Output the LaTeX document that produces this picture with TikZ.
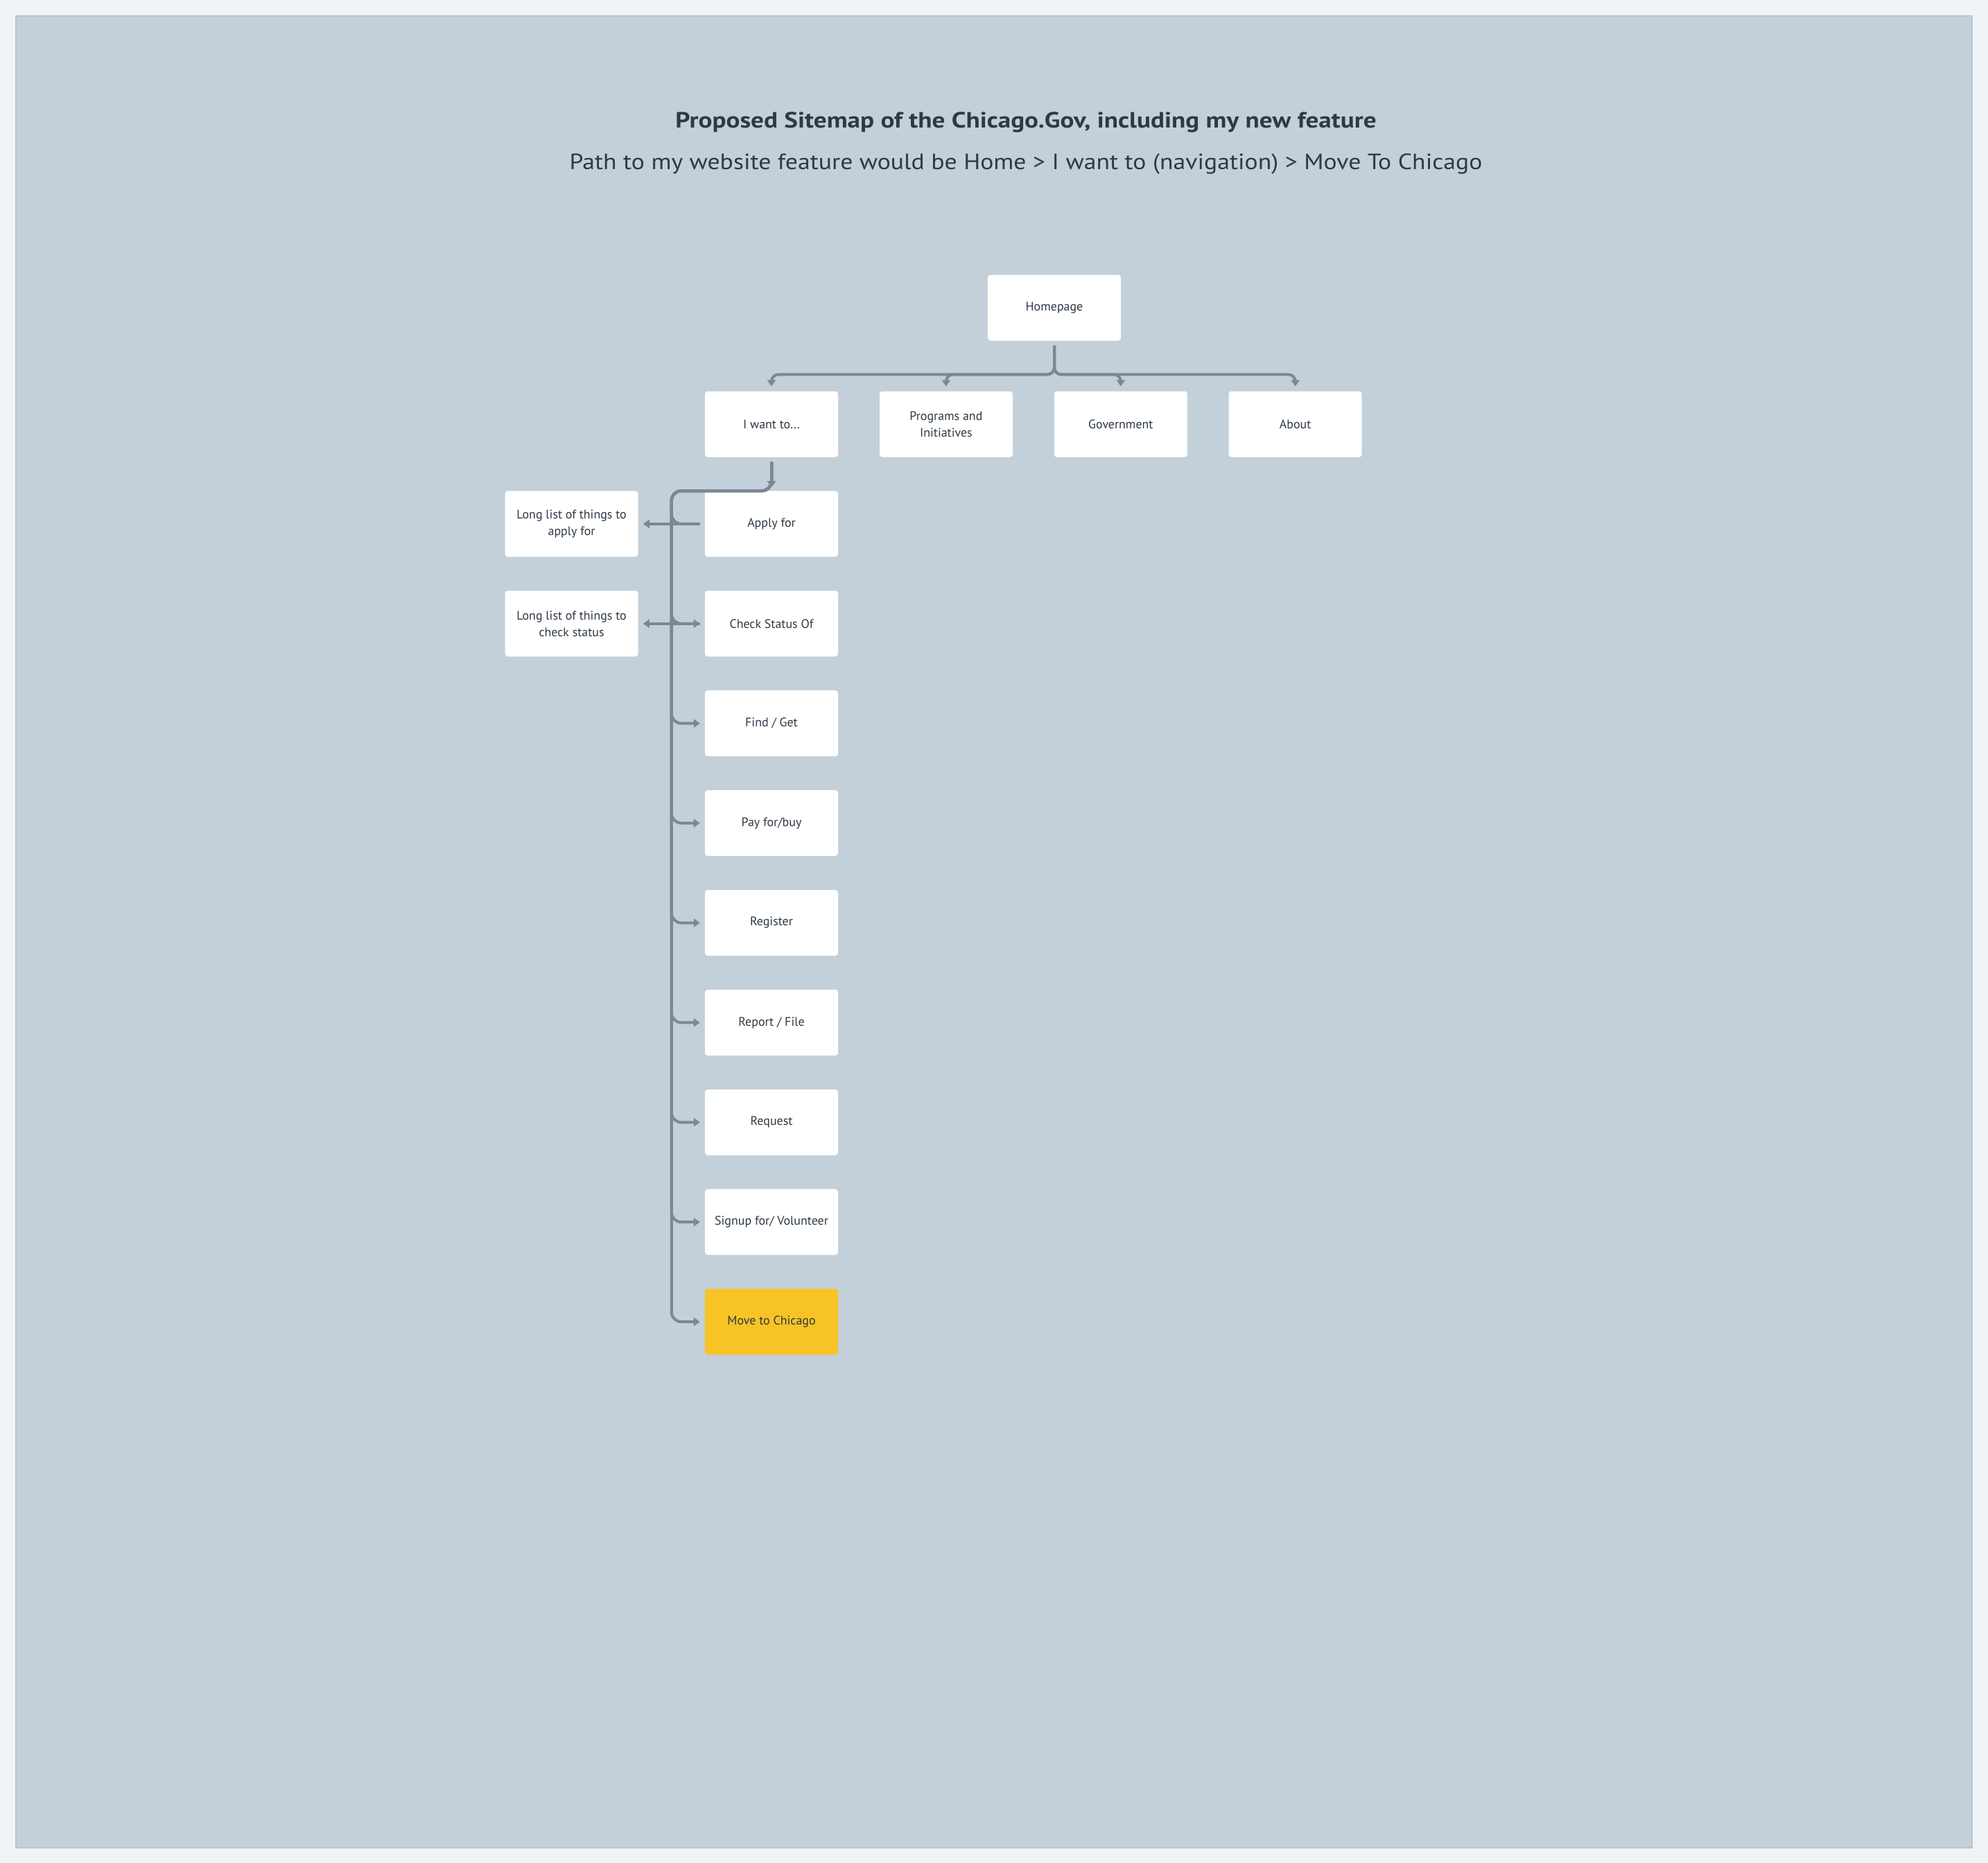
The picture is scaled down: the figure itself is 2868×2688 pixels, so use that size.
\documentclass[tikz,border=0pt]{standalone}
\usepackage{fontspec}
\setmainfont{PT Sans}
\newfontfamily\headfont[FakeStretch=1.165]{PT Sans}
\newfontfamily\pathfont[FakeStretch=1.12]{PT Sans}
\usetikzlibrary{arrows.meta,positioning}
\definecolor{pagebg}{HTML}{F0F4F7}
\definecolor{panelbg}{HTML}{C3D0DA}
\definecolor{panelrim}{HTML}{B9C6D0}
\definecolor{wire}{HTML}{7A8794}
\definecolor{ink}{HTML}{2D3945}
\definecolor{gold}{HTML}{F8C325}

\begin{document}
\begin{tikzpicture}[
  x=1bp, y=-1bp,
  >={Triangle[length=9bp,width=12bp]},
  page/.style    = {rounded corners=4bp, fill=white, minimum width=192bp, minimum height=95bp, align=center, text=ink, font=\fontsize{18}{24}\selectfont, inner sep=4bp},
  feature/.style = {page, fill=gold},
  line/.style    = {->, draw=wire, line width=4bp, rounded corners=14bp, shorten <=7bp, shorten >=7bp},
  node distance=48.5bp and 59.5bp
]

% Background
\useasboundingbox (0,0) rectangle (2868,2688);
\fill[pagebg] (0,0) rectangle (2868,2688);
\fill[panelrim] (22,22) rectangle (2846,2667);
\fill[panelbg] (24,24) rectangle (2844,2665);

% Titles
\node[text=ink, font=\headfont\bfseries\fontsize{32}{38}\selectfont] (title) at (1480,176) {Proposed Sitemap of the Chicago.Gov, including my new feature};
\node[text=ink, font=\pathfont\fontsize{32}{38}\selectfont] (subtitle) at (1480,237) {Path to my website feature would be Home > I want to (navigation) > Move To Chicago};

% Nodes
\node[page] (home) at (1521,444) {Homepage};
\node[page] (iwant) at (1113,612) {I want to...};
\node[page, right=of iwant] (prog) {Programs and\\Initiatives};
\node[page, right=of prog] (gov) {Government};
\node[page, right=of gov] (about) {About};

% I want to column
\node[page, below=of iwant] (apply) {Apply for};
\node[page, below=of apply] (check) {Check Status Of};
\node[page, below=of check] (find) {Find / Get};
\node[page, below=of find] (pay) {Pay for/buy};
\node[page, below=of pay] (register) {Register};
\node[page, below=of register] (report) {Report / File};
\node[page, below=of report] (request) {Request};
\node[page, below=of request] (signup) {Signup for/ Volunteer};
\node[feature, below=of signup] (move) {Move to Chicago};

% Long lists
\node[page, left=96bp of apply] (applylist) {Long list of things to\\apply for};
\node[page, left=96bp of check] (checklist) {Long list of things to\\check status};

\coordinate[left=48bp of apply.north west] (bend);

% Homepage to top level
\foreach \t in {iwant,prog,gov,about}
  \draw[line, rounded corners=10bp] (home.south) |- ([yshift=24bp]\t.north) -- (\t.north);

% I want to, down the trunk
\draw[line, shorten >=5bp] (iwant) -- (apply);
\draw[line, -] (iwant.south) |- (bend) |- (apply.west);
\foreach \t in {check,find,pay,register,report,request,signup,move}
  \draw[line] (iwant.south) |- (bend) |- (\t.west);

% Out to the long lists
\draw[line] (apply) -- (applylist);
\draw[line] (check) -- (checklist);

\end{tikzpicture}
\end{document}
